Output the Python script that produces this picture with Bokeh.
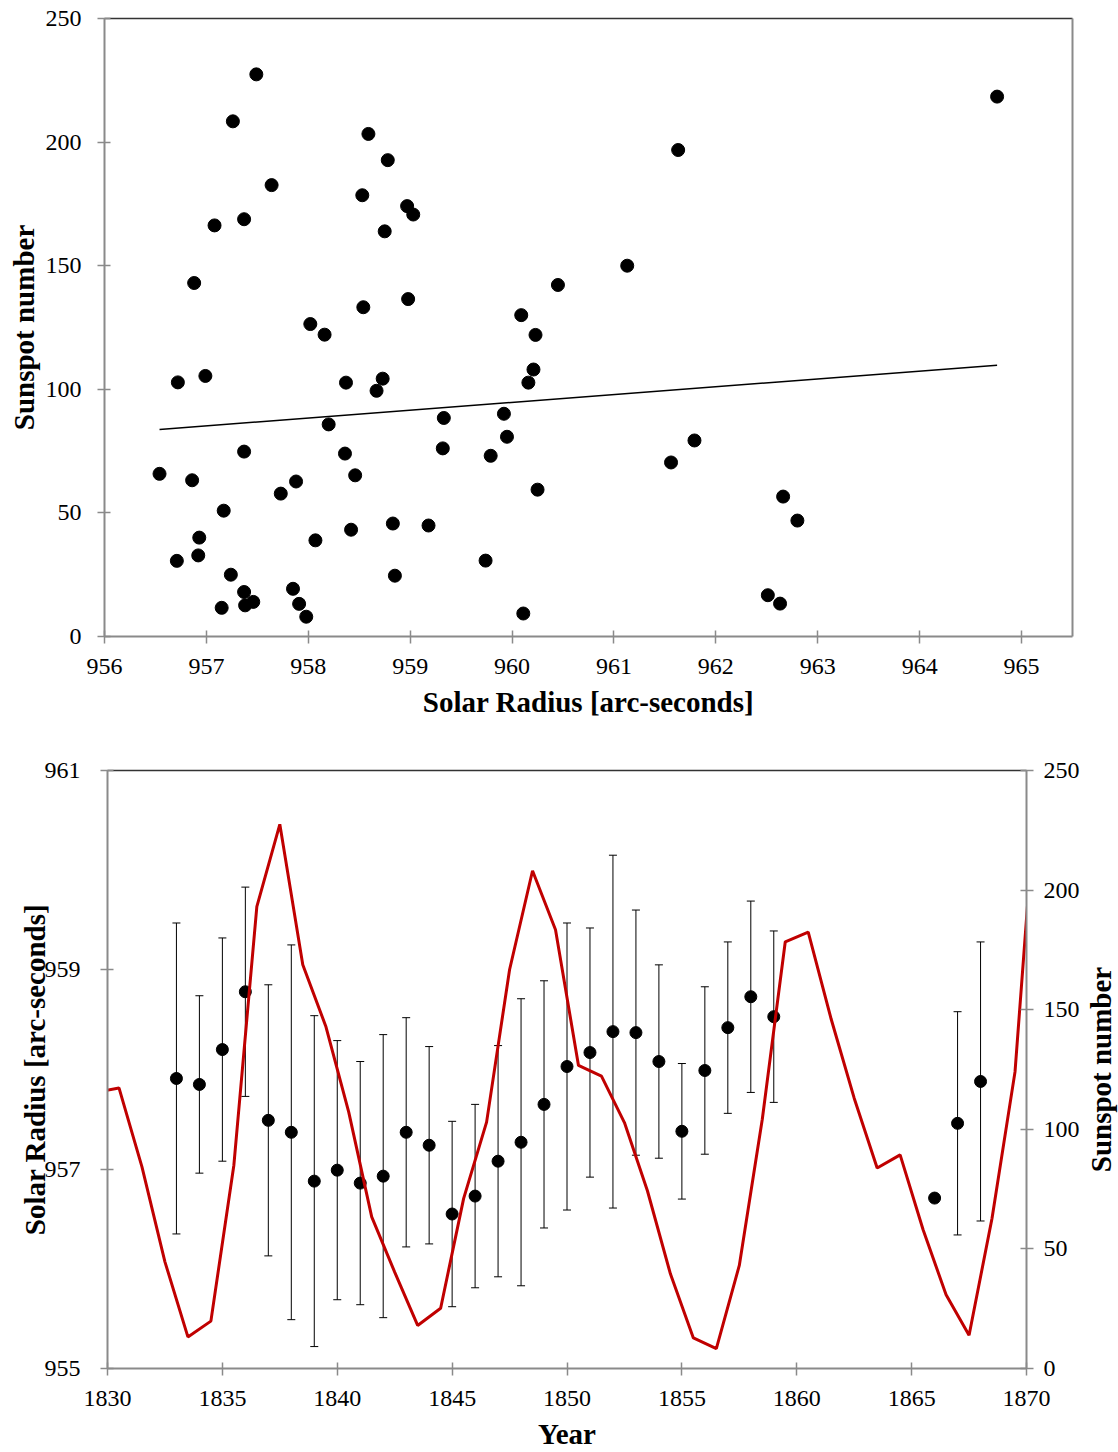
import math
import numpy as np
from bokeh.plotting import figure
from bokeh.models import (Range1d, LinearAxis, FixedTicker, Whisker, ColumnDataSource,
                          TeeHead)
from bokeh.core.properties import value
from bokeh.layouts import column, row
from bokeh.embed import file_html
from bokeh.resources import INLINE

# ---------------- data: scatter (top) ----------------
scatter_radius = [956.54, 956.72, 956.71, 956.86, 956.88, 956.93, 956.92, 956.99, 957.08, 957.15,
                  957.17, 957.24, 957.26, 957.37, 957.37, 957.37, 957.38, 957.46, 957.49, 957.64,
                  957.73, 957.85, 957.88, 957.91, 957.98, 958.02, 958.07, 958.16, 958.20, 958.36,
                  958.37, 958.42, 958.46, 958.53, 958.54, 958.59, 958.67, 958.73, 958.75, 958.78,
                  958.83, 958.85, 958.97, 958.98, 959.03, 959.18, 959.32, 959.33, 959.74, 959.79,
                  959.92, 959.95, 960.09, 960.11, 960.16, 960.21, 960.23, 960.25, 960.45, 961.13,
                  961.56, 961.63, 961.79, 962.51, 962.63, 962.66, 962.80, 964.76]
scatter_sunspots = [65.8, 102.8, 30.6, 63.2, 143.0, 40.0, 32.8, 105.4, 166.3, 11.6,
                    50.9, 25.0, 208.4, 168.8, 74.8, 18.0, 12.6, 14.0, 227.4, 182.6,
                    57.8, 19.3, 62.7, 13.2, 8.0, 126.4, 38.9, 122.1, 85.8, 74.0,
                    102.7, 43.2, 65.2, 178.5, 133.2, 203.3, 99.4, 104.3, 163.9, 192.7,
                    45.7, 24.6, 174.1, 136.5, 170.7, 44.9, 76.1, 88.4, 30.7, 73.1,
                    90.1, 80.8, 130.0, 9.3, 102.7, 108.0, 122.0, 59.4, 142.2, 150.0,
                    70.4, 196.8, 79.3, 16.7, 13.3, 56.6, 46.9, 218.4]

# ---------------- data: time series (bottom) ----------------
radius_years = [1833, 1834, 1835, 1836, 1837, 1838, 1839, 1840, 1841, 1842,
                1843, 1844, 1845, 1846, 1847, 1848, 1849, 1850, 1851, 1852,
                1853, 1854, 1855, 1856, 1857, 1858, 1859, 1866, 1867, 1868]
radius_values = [957.91, 957.85, 958.20, 958.78, 957.49, 957.37, 956.88, 956.99, 956.86, 956.93,
                 957.37, 957.24, 956.55, 956.73, 957.08, 957.27, 957.65, 958.03, 958.17, 958.38,
                 958.37, 958.08, 957.38, 957.99, 958.42, 958.73, 958.53, 956.71, 957.46, 957.88]
radius_errors = [1.56, 0.89, 1.12, 1.05, 1.36, 1.88, 1.66, 1.30, 1.22, 1.42,
                 1.15, 0.99, 0.93, 0.92, 1.16, 1.44, 1.24, 1.44, 1.25, 1.77,
                 1.23, 0.97, 0.68, 0.84, 0.86, 0.96, 0.86, 0.0, 1.12, 1.40]

sunspot_years = [1829.5, 1830.5, 1831.5, 1832.5, 1833.5, 1834.5, 1835.5, 1836.5, 1837.5, 1838.5,
                 1839.5, 1840.5, 1841.5, 1842.5, 1843.5, 1844.5, 1845.5, 1846.5, 1847.5, 1848.5,
                 1849.5, 1850.5, 1851.5, 1852.5, 1853.5, 1854.5, 1855.5, 1856.5, 1857.5, 1858.5,
                 1859.5, 1860.5, 1861.5, 1862.5, 1863.5, 1864.5, 1865.5, 1866.5, 1867.5, 1868.5,
                 1869.5, 1870.5]
sunspot_values = [115.5, 117.3, 84.3, 44.6, 13.2, 19.8, 85.0, 193.1, 227.5, 168.8,
                  143.1, 107.2, 63.4, 40.3, 18.0, 25.2, 71.0, 103.0, 166.7, 208.1,
                  183.4, 126.7, 122.2, 102.8, 74.3, 39.6, 12.8, 8.3, 43.1, 104.2,
                  178.4, 182.4, 146.0, 113.0, 83.8, 89.3, 58.0, 30.8, 13.9, 62.8,
                  124.0, 252.0]

top_x_ticks = [956, 957, 958, 959, 960, 961, 962, 963, 964, 965]
top_y_ticks = [0, 50, 100, 150, 200, 250]
bot_x_ticks = [1830, 1835, 1840, 1845, 1850, 1855, 1860, 1865, 1870]
bot_left_ticks = [955, 957, 959, 961]
bot_right_ticks = [0, 50, 100, 150, 200, 250]
right_title = "Sunspot number"

FONT = "Liberation Serif"
AXIS_GRAY = "#8a8a8a"
TICK_FS = "24px"
TITLE_FS = "29px"


def style_axis(ax, standoff=14, title_standoff=8):
    ax.axis_line_color = AXIS_GRAY
    ax.axis_line_width = 2
    ax.major_tick_line_color = AXIS_GRAY
    ax.major_tick_line_width = 1.5
    ax.major_tick_in = 6
    ax.major_tick_out = 7
    ax.minor_tick_line_color = None
    ax.major_label_text_font = FONT
    ax.major_label_text_font_size = TICK_FS
    ax.major_label_text_color = "black"
    ax.major_label_standoff = standoff
    ax.axis_label_text_font = FONT
    ax.axis_label_text_font_size = TITLE_FS
    ax.axis_label_text_font_style = "bold"
    ax.axis_label_text_color = "black"
    ax.axis_label_standoff = title_standoff


def border_axis(color, width):
    ax = LinearAxis(ticker=FixedTicker(ticks=[]), major_label_text_font_size="0px",
                    major_tick_line_color=None, minor_tick_line_color=None,
                    axis_line_color=color, axis_line_width=width, major_label_standoff=0)
    return ax


W = 1118
H1 = 740
H2 = 1452 - H1
W2 = 1084          # bottom chart width; the rest holds the right-hand title
W3 = W - W2

# ---------------- top figure ----------------
p1 = figure(width=W, height=H1, x_range=Range1d(956, 965.5), y_range=Range1d(0, 250),
            output_backend="svg", toolbar_location=None,
            min_border_left=104, min_border_right=W - 1072, min_border_top=18,
            min_border_bottom=H1 - 636)
p1.frame_align = False
p1.outline_line_color = None
p1.grid.visible = False
p1.background_fill_color = "white"
p1.border_fill_color = "white"

p1.xaxis.ticker = FixedTicker(ticks=top_x_ticks)
p1.yaxis.ticker = FixedTicker(ticks=top_y_ticks)
p1.xaxis.axis_label = "Solar Radius [arc-seconds]"
p1.yaxis.axis_label = "Sunspot number"
style_axis(p1.xaxis[0], standoff=15, title_standoff=9)
style_axis(p1.yaxis[0], standoff=16, title_standoff=3)

p1.add_layout(border_axis("#333333", 1.5), "above")
p1.add_layout(border_axis(AXIS_GRAY, 2), "right")

p1.scatter(scatter_radius, scatter_sunspots, size=13, color="black", line_color="black")

coef = np.polyfit(np.array(scatter_radius), np.array(scatter_sunspots), 1)
tx = np.array([min(scatter_radius), max(scatter_radius)])
p1.line(tx, np.polyval(coef, tx), line_color="black", line_width=1.5)

# ---------------- bottom figure ----------------
p2 = figure(width=W2, height=H2, x_range=Range1d(1830, 1870), y_range=Range1d(955, 961),
            output_backend="svg", toolbar_location=None,
            min_border_left=107, min_border_right=W2 - 1026, min_border_top=770 - H1,
            min_border_bottom=1452 - 1370)
p2.frame_align = False
p2.extra_y_ranges = {"ss": Range1d(0, 250)}
p2.outline_line_color = None
p2.grid.visible = False
p2.background_fill_color = "white"
p2.border_fill_color = "white"

p2.xaxis.ticker = FixedTicker(ticks=bot_x_ticks)
p2.yaxis.ticker = FixedTicker(ticks=bot_left_ticks)
p2.xaxis.axis_label = "Year"
p2.yaxis.axis_label = "Solar Radius [arc-seconds]"
style_axis(p2.xaxis[0], standoff=15, title_standoff=9)
style_axis(p2.yaxis[0], standoff=20, title_standoff=-9)

rax = LinearAxis(y_range_name="ss", ticker=FixedTicker(ticks=bot_right_ticks))
style_axis(rax, standoff=10, title_standoff=0)
p2.add_layout(rax, "right")
p2.add_layout(border_axis("#333333", 1.5), "above")

ry = np.array(radius_years, dtype=float)
rv = np.array(radius_values)
re = np.array(radius_errors)
mask = re > 0
wsrc = ColumnDataSource(dict(x=ry[mask], upper=(rv + re)[mask], lower=(rv - re)[mask]))
wh = Whisker(source=wsrc, base="x", upper="upper", lower="lower", dimension="height",
             line_color="black", line_width=1,
             upper_head=TeeHead(size=8, line_color="black", line_width=1),
             lower_head=TeeHead(size=8, line_color="black", line_width=1))
wh.level = "underlay"
p2.add_layout(wh)

p2.scatter(radius_years, radius_values, size=12, color="black", line_color="black")
p2.line(sunspot_years, sunspot_values, y_range_name="ss", line_color="#C00000", line_width=3)

# ---------------- strip holding the right-hand axis title (reads bottom-to-top) ----------------
p3 = figure(width=W3, height=H2, x_range=Range1d(0, W3), y_range=Range1d(0, H2),
            output_backend="svg", toolbar_location=None,
            min_border_left=0, min_border_right=0, min_border_top=0, min_border_bottom=0)
p3.frame_align = False
p3.axis.visible = False
p3.grid.visible = False
p3.outline_line_color = None
p3.background_fill_color = "white"
p3.border_fill_color = "white"
p3.text(x=[1100 - W2], y=[H2 - (1069 - H1)], text=[right_title], angle=math.pi / 2,
        text_align="center", text_baseline="middle", text_font=value(FONT),
        text_font_size=TITLE_FS, text_font_style="bold", text_color="black")

layout = column(p1, row(p2, p3, spacing=0), spacing=0)
open("out.html", "w").write(file_html(layout, INLINE))
